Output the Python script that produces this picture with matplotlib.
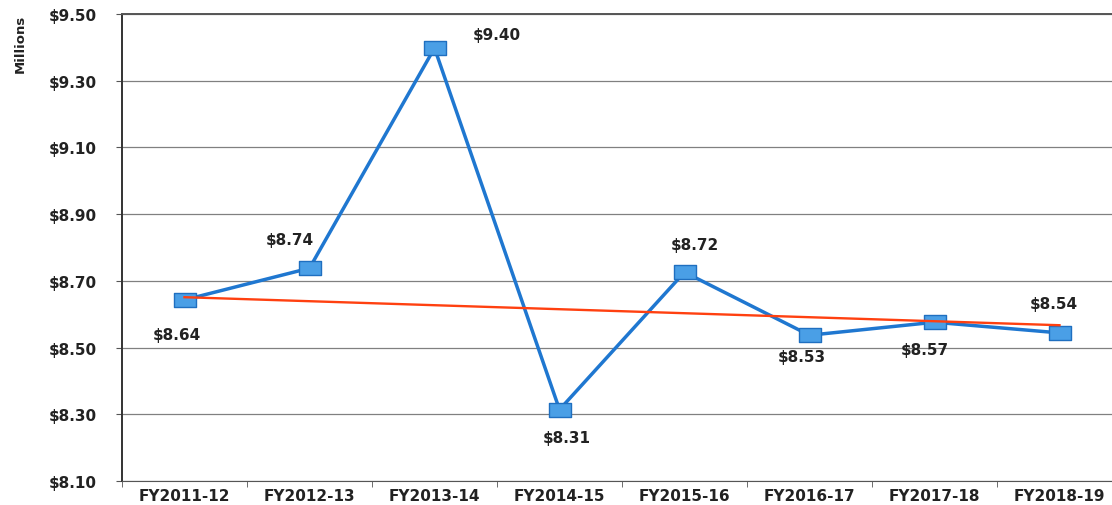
import matplotlib; matplotlib.use('Agg')
import matplotlib.pyplot as plt
from matplotlib.path import Path
import numpy as np

# data
years = ['FY2011-12','FY2012-13','FY2013-14','FY2014-15','FY2015-16','FY2016-17','FY2017-18','FY2018-19']
values = [8.643, 8.738, 9.398, 8.314, 8.726, 8.537, 8.576, 8.544]
labels = ['$8.64','$8.74','$9.40','$8.31','$8.72','$8.53','$8.57','$8.54']
trend_ends = [8.651, 8.567]
yticks = [8.10, 8.30, 8.50, 8.70, 8.90, 9.10, 9.30, 9.50]

# label offsets in pixels (dx, dy)
offsets = [(-8,-35), (-20,29), (62,14), (7,-28), (10,28), (-8,-21), (-10,-27), (-6,29)]

plt.rcParams['font.family'] = ['DejaVu Sans']
fig = plt.figure(figsize=(11.12,5.06), dpi=100)
ax = fig.add_axes([122/1112, 24/506, 1000/1112, 467/506])

x = np.arange(len(years))
rect = Path([(-1,-0.62),(1,-0.62),(1,0.62),(-1,0.62),(-1,-0.62)],
            [Path.MOVETO, Path.LINETO, Path.LINETO, Path.LINETO, Path.CLOSEPOLY])
ax.plot(x, values, color='#1f77d0', lw=2.5, marker=rect, ms=16,
        mfc='#4a9fe6', mec='#1f6fc0', mew=1.0, zorder=3)
ax.plot([x[0], x[-1]], trend_ends, color='#ff4010', lw=1.7, zorder=4)

for xi, v, lab, (dx, dy) in zip(x, values, labels, offsets):
    ax.annotate(lab, (xi, v), xytext=(dx, dy), textcoords='offset pixels',
                ha='center', va='center', fontsize=11, fontweight='bold', color='#222222')

ax.set_xlim(-0.5, 7.5)
ax.set_ylim(8.10, 9.50)
ax.set_yticks(yticks)
ax.set_yticklabels([f'${t:.2f}' for t in yticks], fontsize=11, fontweight='bold', color='#222222')
ax.set_xticks(x)
ax.set_xticklabels(years, fontsize=11, fontweight='bold', color='#222222')
ax.set_xticks(np.arange(-0.5, 8, 1), minor=True)
ax.tick_params(axis='x', which='major', length=0, pad=5)
ax.tick_params(axis='x', which='minor', length=4, color='#555555')
ax.tick_params(axis='y', length=4, color='#555555', pad=14)
ax.grid(axis='y', color='#808080', lw=0.9)
ax.set_axisbelow(True)
ax.spines['right'].set_visible(False)
ax.spines['left'].set_color('#333333')
ax.spines['left'].set_linewidth(1.4)
ax.spines['top'].set_color('#555555')
ax.spines['top'].set_linewidth(1.4)
ax.spines['bottom'].set_color('#555555')

fig.text(20/1112, 1 - 44/506, 'Millions', rotation=90, ha='center', va='center',
         fontsize=9.5, fontweight='bold', color='#222222',
         family=['Liberation Sans Narrow', 'DejaVu Sans'])

fig.savefig('out.png', dpi=100)
